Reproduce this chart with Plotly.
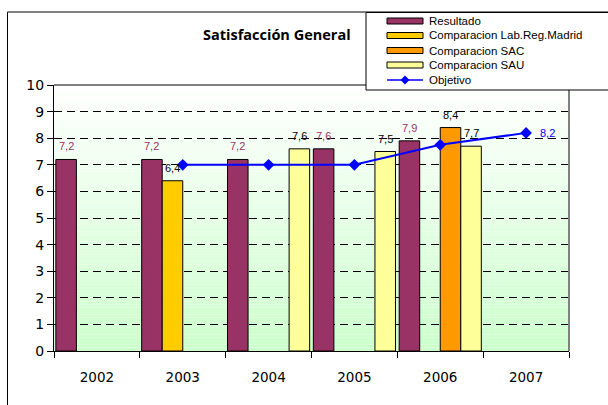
import plotly.graph_objects as go

# ---- data -------------------------------------------------------------
years = ["2002", "2003", "2004", "2005", "2006", "2007"]
resultado = [7.2, 7.2, 7.2, 7.6, 7.9, None]
comp_lab_reg_madrid = [None, 6.4, None, None, None, None]
comp_sac = [None, None, None, None, 8.4, None]
comp_sau = [None, None, 7.6, 7.5, 7.7, None]
objetivo = [None, 7.0, 7.0, 7.0, 7.75, 8.2]

y_ticks = list(range(0, 11))

# ---- styling ----------------------------------------------------------
bar_series = [
    ("Resultado", resultado, "#993366", "#993366"),
    ("Comparacion Lab.Reg.Madrid", comp_lab_reg_madrid, "#FFCC00", "#000000"),
    ("Comparacion SAC", comp_sac, "#FF9900", "#000000"),
    ("Comparacion SAU", comp_sau, "#FFFF99", "#000000"),
]
line_name = "Objetivo"
line_color = "#0000FF"

W, H = 608, 405
L, R, T, B = 54, 39, 85, 54
PW, PH = W - L - R, H - T - B
BARGAP = 0.043


def px(x):
    """page x pixel -> paper x"""
    return (x - L) / PW


def py(y):
    """page y pixel -> paper y"""
    return (H - B - y) / PH


def fmt(v):
    return f"{v:.1f}".replace(".", ",")


fig = go.Figure()

for name, vals, color, _ in bar_series:
    fig.add_trace(go.Bar(
        x=years, y=vals, name=name,
        marker=dict(color=color, line=dict(color="#000000", width=1)),
        showlegend=False,
    ))

fig.add_trace(go.Scatter(
    x=years, y=objetivo, name=line_name, mode="lines+markers",
    line=dict(color=line_color, width=2),
    marker=dict(symbol="diamond", size=9, color=line_color),
    connectgaps=False, showlegend=False, cliponaxis=False,
))

annotations = []
shapes = []

# value labels above the bars (x given as category index)
slot_w = PW / len(years) * (1 - BARGAP) / len(bar_series)
for k, (name, vals, _, label_color) in enumerate(bar_series):
    xs = (k - (len(bar_series) - 1) / 2) * slot_w
    for i, v in enumerate(vals):
        if v is None:
            continue
        annotations.append(dict(
            x=i, y=v, xref="x", yref="y", text=fmt(v), showarrow=False,
            xshift=xs, yshift=13, yanchor="middle",
            font=dict(family="Liberation Sans", size=11, color=label_color),
        ))

# value label for the last target point, to the right of its marker
last = max(i for i, v in enumerate(objetivo) if v is not None)
annotations.append(dict(
    x=last, y=objetivo[last], xref="x", yref="y", text=fmt(objetivo[last]),
    showarrow=False, xanchor="left", yanchor="middle", xshift=12,
    font=dict(family="Liberation Sans", size=11, color=line_color),
))

# plot-area gradient: white at the top fading to pale green at the bottom
n_strips = 80
for i in range(n_strips):
    f = (i + 0.5) / n_strips
    c = round(255 - 51 * f)
    shapes.append(dict(
        type="rect", xref="x domain", yref="y domain",
        x0=0, x1=1, y0=1 - (i + 1) / n_strips, y1=1 - i / n_strips,
        fillcolor=f"rgb({c},255,{c})", line=dict(width=0), layer="below",
    ))

# grey frame on top and right of the plot area
shapes.append(dict(type="line", xref="paper", yref="paper", x0=0, x1=1, y0=1, y1=1,
                   line=dict(color="#808080", width=2), layer="above"))
shapes.append(dict(type="line", xref="paper", yref="paper", x0=1, x1=1, y0=0, y1=1,
                   line=dict(color="#808080", width=2), layer="above"))

# chart-area border
shapes.append(dict(type="rect", xref="paper", yref="paper",
                   x0=px(7.5), x1=px(700), y0=py(500), y1=py(12),
                   line=dict(color="#000000", width=1), fillcolor="rgba(0,0,0,0)",
                   layer="above"))

# legend box
shapes.append(dict(type="rect", xref="paper", yref="paper",
                   x0=px(366), x1=px(700), y0=py(90), y1=py(12.5),
                   line=dict(color="#000000", width=1), fillcolor="#FFFFFF",
                   layer="above"))
leg_y = [21, 35.5, 50.5, 65, 80]
sw_x0, sw_x1, txt_x = 387, 423, 427
for (name, _, color, _), yy in zip(bar_series, leg_y):
    shapes.append(dict(type="rect", xref="paper", yref="paper",
                       x0=px(sw_x0), x1=px(sw_x1), y0=py(yy + 3), y1=py(yy - 3),
                       fillcolor=color, line=dict(color="#000000", width=1),
                       layer="above"))
    annotations.append(dict(x=px(txt_x), y=py(yy), xref="paper", yref="paper",
                            text=name, showarrow=False, xanchor="left", yanchor="middle",
                            font=dict(family="Liberation Sans", size=11.5, color="#000000")))
yy = leg_y[-1]
shapes.append(dict(type="line", xref="paper", yref="paper",
                   x0=px(sw_x0), x1=px(sw_x1), y0=py(yy), y1=py(yy),
                   line=dict(color=line_color, width=1.5), layer="above"))
cx, dx, dy = (sw_x0 + sw_x1) / 2, 4.5, 4.5
shapes.append(dict(type="path", xref="paper", yref="paper",
                   path=(f"M {px(cx)},{py(yy - dy)} L {px(cx + dx)},{py(yy)} "
                         f"L {px(cx)},{py(yy + dy)} L {px(cx - dx)},{py(yy)} Z"),
                   fillcolor=line_color, line=dict(color=line_color, width=0),
                   layer="above"))
annotations.append(dict(x=px(txt_x), y=py(yy), xref="paper", yref="paper",
                        text=line_name, showarrow=False, xanchor="left", yanchor="middle",
                        font=dict(family="Liberation Sans", size=11.5, color="#000000")))

# title
annotations.append(dict(x=px(277), y=py(35), xref="paper", yref="paper",
                        text="<b>Satisfacción General</b>", showarrow=False,
                        xanchor="center", yanchor="middle",
                        font=dict(family="Open Sans", size=14.5, color="#000000")))

fig.update_layout(
    width=W, height=H,
    margin=dict(l=L, r=R, t=T, b=B, pad=0),
    paper_bgcolor="#FFFFFF", plot_bgcolor="rgba(0,0,0,0)",
    barmode="group", bargap=BARGAP, bargroupgap=0,
    separators=",.",
    shapes=shapes, annotations=annotations,
    showlegend=False,
)
fig.update_xaxes(
    type="category", categoryorder="array", categoryarray=years,
    range=[-0.5, len(years) - 0.5], autorange=False,
    showline=True, linecolor="#000000", linewidth=1,
    ticks="outside", tickson="boundaries", ticklen=6, tickcolor="#000000",
    showgrid=False, ticklabelstandoff=14,
    tickfont=dict(family="DejaVu Sans", size=13.5, color="#000000"),
)
fig.update_yaxes(
    range=[0, 10], autorange=False, tickvals=y_ticks, ticktext=[str(v) for v in y_ticks],
    showline=True, linecolor="#000000", linewidth=1,
    ticks="outside", ticklen=6, tickcolor="#000000",
    showgrid=True, gridcolor="#000000", gridwidth=1, griddash="8px,5px",
    zeroline=False,
    tickfont=dict(family="DejaVu Sans", size=14, color="#000000"),
)

fig.write_html("out.html")
